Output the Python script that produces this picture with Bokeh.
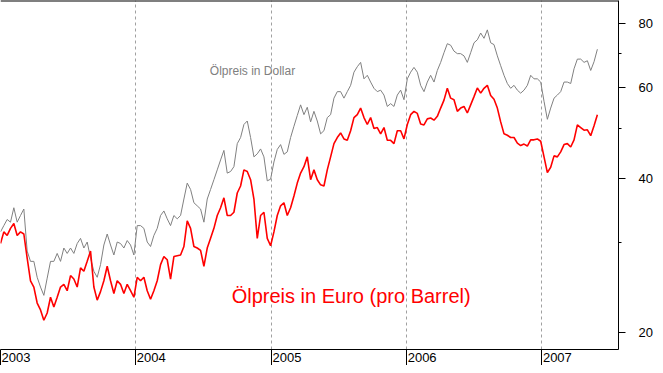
import pandas as pd
from bokeh.plotting import figure
from bokeh.models import Range1d, FixedTicker, PrintfTickFormatter, Label, Span
from bokeh.embed import file_html
from bokeh.resources import INLINE

# ---- data ----
START_DATE = "2003-01-01"
STEP = "9D"

usd = [31.4, 32.3, 33.2, 32.8, 35.0, 32.8, 33.8, 34.8, 28.8, 27.5,
       27.5, 25.6, 24.5, 23.6, 25.5, 27.5, 27.5, 28.5, 27.5, 29.2,
       28.5, 29.2, 28.5, 29.8, 30.5, 29.2, 30.0, 27.9, 26.3, 25.6,
       27.1, 29.6, 31.1, 29.6, 28.3, 30.0, 29.8, 29.2, 30.2, 29.6,
       28.3, 32.3, 32.3, 31.9, 30.0, 29.4, 30.9, 31.9, 33.8, 34.5,
       33.3, 32.3, 33.8, 33.3, 33.8, 36.4, 39.1, 38.0, 35.8, 35.3,
       34.8, 32.8, 36.4, 38.0, 39.7, 41.5, 43.4, 45.3, 40.9, 41.2,
       42.1, 46.7, 48.0, 50.9, 51.7, 48.0, 44.0, 44.6, 45.6, 44.0,
       39.5, 39.8, 43.0, 45.5, 46.5, 44.5, 45.0, 48.0, 50.5, 53.0,
       55.6, 53.2, 55.0, 51.5, 54.0, 51.7, 48.8, 49.5, 52.5, 53.2,
       57.3, 59.0, 59.0, 57.3, 59.0, 60.7, 64.4, 66.0, 67.3, 62.5,
       63.5, 61.6, 59.9, 59.0, 59.4, 58.1, 55.2, 55.9, 55.2, 58.1,
       59.4, 56.9, 62.5, 64.4, 65.8, 64.4, 60.7, 59.0, 61.6, 63.5,
       61.6, 64.9, 67.3, 70.3, 73.2, 72.7, 70.8, 70.0, 70.0, 69.3,
       67.3, 70.3, 73.5, 74.5, 76.8, 75.0, 77.9, 73.5, 72.9, 69.3,
       66.3, 63.5, 61.2, 59.9, 60.7, 59.4, 58.6, 59.4, 60.7, 63.5,
       62.5, 62.5, 61.6, 56.5, 52.1, 54.8, 57.3, 58.1, 59.0, 61.6,
       61.6, 61.2, 65.4, 68.3, 68.3, 67.3, 67.8, 64.9, 67.5, 71.4]

eur = [29.8, 31.4, 30.9, 31.9, 32.6, 30.9, 31.4, 31.1, 27.9, 25.2,
       24.5, 22.8, 22.1, 21.1, 21.8, 23.4, 22.4, 23.4, 24.5, 24.8,
       24.1, 25.8, 25.4, 24.5, 26.7, 26.3, 27.5, 28.8, 24.5, 23.1,
       24.0, 25.2, 26.9, 25.2, 23.8, 25.2, 24.8, 23.8, 24.8, 24.1,
       23.4, 25.6, 25.2, 25.6, 24.1, 23.2, 24.1, 25.2, 27.1, 28.1,
       27.7, 25.4, 28.1, 28.2, 28.3, 29.4, 33.0, 31.9, 29.4, 29.2,
       28.9, 26.9, 29.2, 30.5, 31.9, 33.8, 35.0, 36.6, 33.8, 33.8,
       34.3, 37.4, 38.6, 41.5, 41.2, 39.7, 36.4, 30.5, 33.8, 34.3,
       30.5, 29.5, 31.4, 33.8, 35.3, 35.8, 33.8, 35.0, 36.9, 39.1,
       40.9, 42.1, 44.0, 39.7, 41.5, 39.7, 38.8, 38.6, 41.5, 44.0,
       46.7, 48.0, 49.0, 47.7, 47.4, 49.5, 52.5, 53.2, 54.8, 52.5,
       50.9, 52.5, 50.0, 50.2, 48.8, 50.2, 47.4, 47.4, 46.7, 49.5,
       49.5, 47.7, 50.9, 53.2, 54.0, 53.5, 51.0, 50.8, 52.2, 52.4,
       51.9, 52.8, 54.8, 56.8, 59.9, 57.3, 56.9, 54.0, 54.8, 55.2,
       53.6, 55.6, 57.7, 60.0, 58.6, 59.9, 60.7, 58.0, 57.0, 54.8,
       51.5, 48.8, 48.5, 48.0, 48.0, 46.8, 46.3, 46.6, 46.2, 47.5,
       47.5, 47.7, 47.2, 44.0, 41.0, 42.0, 44.2, 44.0, 45.0, 46.5,
       46.7, 46.0, 47.5, 50.8, 50.2, 49.6, 49.7, 48.4, 50.6, 53.2]

year_starts = ["2003-01-01", "2004-01-01", "2005-01-01", "2006-01-01", "2007-01-01"]
year_labels = ["2003", "2004", "2005", "2006", "2007"]
y_ticks = [20, 40, 60, 80]
y_minor_ticks = [30, 50, 70]

usd_label = "Ölpreis in Dollar"
eur_label = "Ölpreis in Euro (pro Barrel)"

dates = pd.date_range(START_DATE, periods=len(usd), freq=STEP)

LABEL_SHIFT = pd.Timedelta(days=42)   # year label drawn right of its tick line
FONT = "Liberation Sans"
Y_TOP = 88.9


def ms(d):
    return pd.Timestamp(d).value / 1e6


p = figure(width=655, height=365, output_backend="svg", toolbar_location=None,
           x_axis_type="datetime", y_axis_type="log", y_axis_location="right",
           x_range=Range1d(pd.Timestamp("2003-01-01"), pd.Timestamp("2007-07-27")),
           y_range=Range1d(18.5, Y_TOP),
           min_border_left=0, min_border_top=0, min_border_right=36, min_border_bottom=16)
p.outline_line_color = None
p.background_fill_color = "white"
p.border_fill_color = "white"

# vertical dashed year lines
p.ygrid.visible = False
p.xgrid.ticker = FixedTicker(ticks=[ms(d) for d in year_starts[1:]])
p.xgrid.grid_line_color = "#a0a0a0"
p.xgrid.grid_line_dash = "3 3"
p.xgrid.grid_line_width = 1

# x axis: long tick lines at year starts (minor), labels to their right (major)
xa = p.xaxis[0]
xa.ticker = FixedTicker(ticks=[ms(pd.Timestamp(d) + LABEL_SHIFT) for d in year_starts],
                        minor_ticks=[ms(d) for d in year_starts])
xa.major_label_overrides = {ms(pd.Timestamp(d) + LABEL_SHIFT): lab
                            for d, lab in zip(year_starts, year_labels)}
xa.major_tick_out = 0
xa.major_tick_in = 0
xa.major_tick_line_color = None
xa.minor_tick_out = 18
xa.minor_tick_in = 0
xa.minor_tick_line_color = "black"
xa.major_label_standoff = -15
xa.major_label_text_font = FONT
xa.major_label_text_font_size = "13px"
xa.major_label_text_color = "black"
xa.axis_line_color = "black"

# y axis (log, right side)
ya = p.yaxis[0]
ya.ticker = FixedTicker(ticks=y_ticks, minor_ticks=y_minor_ticks)
ya.formatter = PrintfTickFormatter(format="%d")
ya.major_tick_out = 7
ya.major_tick_in = 0
ya.minor_tick_out = 3
ya.minor_tick_in = 0
ya.major_label_standoff = 13
ya.major_label_text_font = FONT
ya.major_label_text_font_size = "13px"
ya.major_label_text_color = "black"
ya.axis_line_color = "black"

# top border line
p.add_layout(Span(location=Y_TOP, dimension="width", line_color="black", line_width=2))

# series
p.line(dates, usd, line_color="#808080", line_width=1)
p.line(dates, eur, line_color="#ff0000", line_width=1.6)

p.add_layout(Label(x=ms("2004-07-19"), y=64.6, text=usd_label,
                   text_font=FONT, text_font_size="12px", text_color="#808080",
                   text_align="left", text_baseline="alphabetic"))
p.add_layout(Label(x=ms("2004-09-16"), y=23.5, text=eur_label,
                   text_font=FONT, text_font_size="20px", text_color="#ff0000",
                   text_align="left", text_baseline="alphabetic"))

open("out.html", "w").write(file_html(p, INLINE))
